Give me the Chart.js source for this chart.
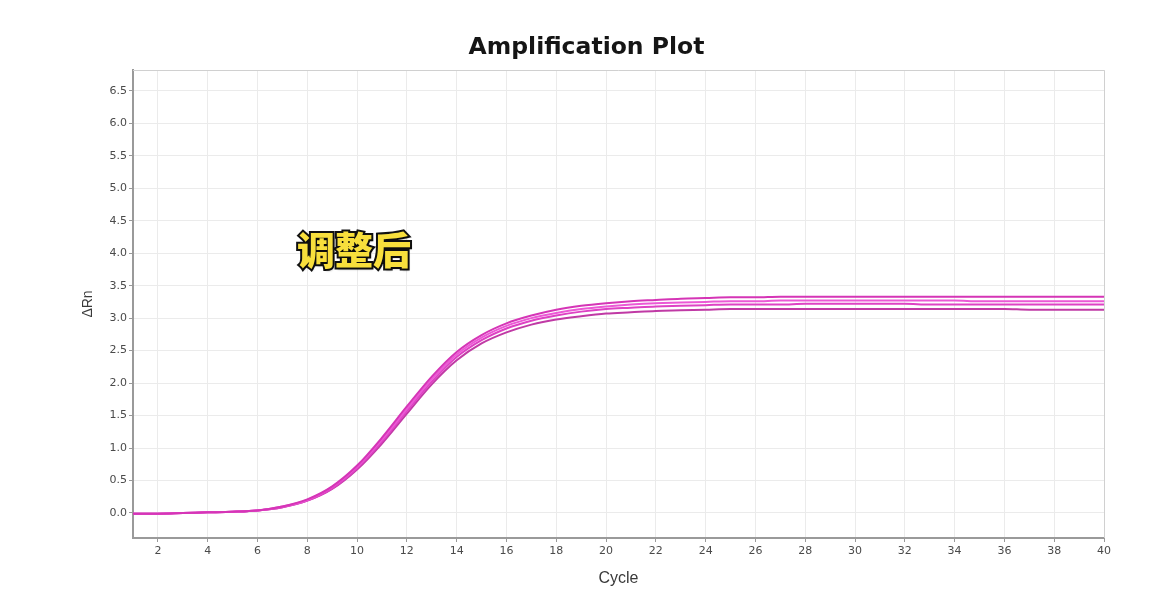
<!DOCTYPE html>
<html>
<head>
<meta charset="utf-8">
<script src="https://cdn.jsdelivr.net/npm/chart.js@4.4.1/dist/chart.umd.min.js"></script>
<style>
  html, body { margin: 0; padding: 0; background: #fff; }
  #wrap { position: relative; width: 1173px; height: 600px; }
  #tag {
    position: absolute; left: 297px; top: 229px;
    font-family: "Noto Sans CJK SC", sans-serif; font-weight: 900;
    font-size: 38px; line-height: 1; color: #f8df3c;
    -webkit-text-stroke: 4px #111; paint-order: stroke fill;
    text-shadow: 1px 2px 2px rgba(0,0,0,0.35);
  }
</style>
</head>
<body>
<div id="wrap">
  <canvas id="chart" width="1173" height="600"></canvas>
  <div id="tag">调整后</div>
</div>
<script>
// ── Data ──────────────────────────────────────────────
const cycles = [1,2,3,4,5,6,7,8,9,10,11,12,13,14,15,16,17,18,19,20,
                21,22,23,24,25,26,27,28,29,30,31,32,33,34,35,36,37,38,39,40];

const well1 = [-0.01,-0.01,0.00,0.01,0.02,0.04,0.10,0.21,0.41,0.73,1.16,1.64,2.10,2.48,2.74,2.92,3.04,3.13,3.19,3.23,
               3.26,3.28,3.30,3.31,3.32,3.32,3.33,3.33,3.33,3.33,3.33,3.33,3.33,3.33,3.33,3.33,3.33,3.33,3.33,3.33];
const well2 = [-0.01,-0.01,0.00,0.01,0.02,0.04,0.10,0.20,0.40,0.71,1.13,1.60,2.06,2.44,2.70,2.88,3.00,3.08,3.14,3.18,
               3.21,3.23,3.24,3.25,3.26,3.26,3.27,3.27,3.27,3.27,3.27,3.27,3.27,3.27,3.26,3.26,3.26,3.26,3.26,3.26];
const well3 = [-0.01,-0.01,0.00,0.01,0.02,0.04,0.09,0.19,0.38,0.69,1.10,1.57,2.02,2.40,2.66,2.84,2.96,3.04,3.10,3.14,
               3.16,3.18,3.19,3.20,3.21,3.21,3.21,3.22,3.22,3.22,3.22,3.22,3.21,3.21,3.21,3.21,3.21,3.21,3.21,3.21];
const well4 = [-0.01,-0.01,0.00,0.01,0.02,0.04,0.09,0.19,0.37,0.67,1.07,1.53,1.98,2.35,2.61,2.78,2.90,2.98,3.03,3.07,
               3.09,3.11,3.12,3.13,3.14,3.14,3.14,3.14,3.14,3.14,3.14,3.14,3.14,3.14,3.14,3.14,3.13,3.13,3.13,3.13];

const xTicks = [2,4,6,8,10,12,14,16,18,20,22,24,26,28,30,32,34,36,38,40];
const yTicks = [0,0.5,1,1.5,2,2.5,3,3.5,4,4.5,5,5.5,6,6.5];

const wells = [well1, well2, well3, well4];
const COLORS = ['#d535b6', '#ec58d6', '#de42c4', '#c03aa5'];

// ── Frame round the plot (top/right light border) ─────
const framePlugin = {
  id: 'frame',
  beforeDatasetsDraw(chart) {
    const { ctx, chartArea: a } = chart;
    ctx.save();
    ctx.strokeStyle = '#d0d0d0';
    ctx.lineWidth = 1;
    ctx.beginPath();
    ctx.moveTo(a.left, a.top + 0.5);
    ctx.lineTo(a.right + 0.5, a.top + 0.5);
    ctx.lineTo(a.right + 0.5, a.bottom);
    ctx.stroke();
    ctx.restore();
  }
};

const tickFont = { family: "'DejaVu Sans', Verdana, sans-serif", size: 11 };

new Chart(document.getElementById('chart'), {
  type: 'line',
  data: {
    datasets: wells.map((w, i) => ({
      data: w.map((v, j) => ({ x: cycles[j], y: v })),
      borderColor: COLORS[i],
      borderWidth: 2,
      pointRadius: 0,
      cubicInterpolationMode: 'monotone',
      fill: false
    }))
  },
  options: {
    responsive: false,
    animation: false,
    layout: { padding: 0 },
    plugins: {
      legend: { display: false },
      tooltip: { enabled: false },
      title: {
        display: true,
        text: 'Amplification Plot',
        color: '#151515',
        font: { family: "'DejaVu Sans', Verdana, sans-serif", size: 23.5, weight: 'bold' },
        padding: { top: 34, bottom: 7.8 }
      }
    },
    scales: {
      x: {
        type: 'linear',
        min: 1,
        max: 40,
        afterBuildTicks: s => { s.ticks = xTicks.map(v => ({ value: v })); },
        afterFit: s => { s.height = 62; },
        ticks: { color: '#4a4a4a', font: tickFont, padding: 3, maxRotation: 0, autoSkip: false },
        grid: { color: '#ebebeb', tickColor: '#999', tickLength: 4 },
        border: { color: '#9a9a9a', width: 2 },
        title: {
          display: true, text: 'Cycle', color: '#3a3a3a',
          font: { family: "'Liberation Sans', Arial, sans-serif", size: 16 },
          padding: { top: 0, bottom: 12 }
        }
      },
      y: {
        type: 'linear',
        min: -0.385,
        max: 6.82,
        afterBuildTicks: s => { s.ticks = yTicks.map(v => ({ value: v })); },
        afterFit: s => { s.width = 133; },
        ticks: { color: '#4a4a4a', font: tickFont, padding: 2, callback: v => v.toFixed(1) },
        grid: { color: '#ebebeb', tickColor: '#999', tickLength: 4 },
        border: { color: '#9a9a9a', width: 2 },
        title: {
          display: true, text: 'ΔRn', color: '#3a3a3a',
          font: { family: "'Liberation Sans', Arial, sans-serif", size: 14 },
          padding: { top: 80, bottom: 0 }
        }
      },
      // empty right-hand axis, only reserves the margin right of the plot
      yRight: {
        type: 'linear',
        position: 'right',
        min: -0.385,
        max: 6.82,
        afterFit: s => { s.width = 69; },
        ticks: { display: false },
        grid: { display: false },
        border: { display: false }
      }
    }
  },
  plugins: [framePlugin]
});
</script>
</body>
</html>
